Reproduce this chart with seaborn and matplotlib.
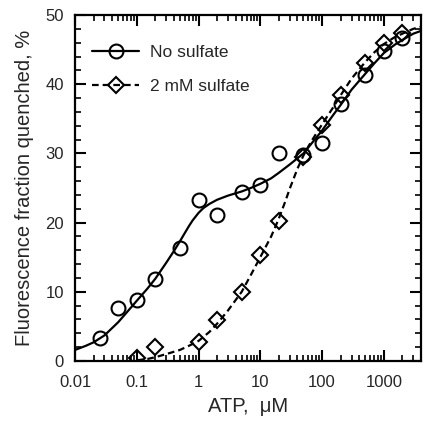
import numpy as np
import pandas as pd
import seaborn as sns
import matplotlib.pyplot as plt
from matplotlib.lines import Line2D
from matplotlib.ticker import MultipleLocator, LogLocator, FixedLocator, NullFormatter

# measured points, no sulfate (circles)
atp_nosulf = [0.025, 0.05, 0.1, 0.2, 0.5, 1, 2, 5, 10, 20, 50, 100, 200, 500, 1000, 2000]
q_nosulf = [3.3, 7.7, 8.8, 11.8, 16.3, 23.2, 21.1, 24.4, 25.4, 30.0, 29.8, 31.5, 37.2, 41.4, 44.8, 46.7]

# measured points, 2 mM sulfate (diamonds)
atp_sulf = [0.1, 0.2, 1, 2, 5, 10, 20, 50, 100, 200, 500, 1000, 2000]
q_sulf = [0.5, 2.0, 2.7, 5.9, 10.0, 15.3, 20.2, 29.5, 34.1, 38.4, 43.0, 46.0, 47.4]

# fitted curves
fit_x_nosulf = [0.01, 0.015, 0.02, 0.03, 0.05, 0.07, 0.1, 0.15, 0.2, 0.3, 0.4, 0.5, 0.6, 0.7, 0.8,
                1, 1.2, 1.5, 2, 3, 5, 7, 10, 15, 20, 30, 50, 70, 100, 150, 200, 300, 500, 700,
                1000, 1500, 2000, 3000, 4000]
fit_y_nosulf = [1.6, 2.2, 2.7, 3.7, 5.6, 7.1, 8.7, 10.5, 11.9, 14.2, 15.9, 17.3, 18.5, 19.5, 20.3,
                21.4, 22.1, 22.7, 23.3, 23.9, 24.5, 25.0, 25.6, 26.4, 27.2, 28.4, 30.0, 31.6, 33.3, 35.5,
                37.0, 39.2, 41.5, 43.0, 44.5, 45.7, 46.4, 47.3, 47.7]

fit_x_sulf = [0.1, 0.15, 0.2, 0.3, 0.5, 0.7, 1, 1.5, 2, 3, 5, 7, 10, 15, 20, 25, 30, 40, 50, 60, 70,
              100, 150, 200, 300, 500, 700, 1000, 1500, 2000, 3000, 4000]
fit_y_sulf = [0.1, 0.3, 0.55, 1.0, 1.6, 2.2, 2.9, 4.2, 5.4, 7.3, 10.0, 12.4, 15.0, 18.0, 20.6, 22.9,
              24.9, 27.8, 29.7, 31.0, 32.0, 34.2, 36.6, 38.4, 40.8, 43.2, 44.6, 45.8, 46.8, 47.3, 48.0, 48.3]

sns.set_style("ticks")
plt.rcParams["font.family"] = ["Liberation Sans", "DejaVu Sans"]

fig = plt.figure(figsize=(4.23, 4.26), dpi=100)
ax = fig.add_axes([75 / 423, 65 / 426, 346 / 423, 346 / 426])

dash = [3, 1.8]
fit1 = pd.DataFrame({"x": fit_x_nosulf, "y": fit_y_nosulf})
fit2 = pd.DataFrame({"x": fit_x_sulf, "y": fit_y_sulf})
sns.lineplot(data=fit1, x="x", y="y", ax=ax, color="black", lw=1.6)
sns.lineplot(data=fit2, x="x", y="y", ax=ax, color="black", lw=1.6)
ax.lines[-1].set_dashes(dash)

ax.plot(atp_nosulf, q_nosulf, ls="none", marker="o", ms=10, mfc="none", mec="black", mew=1.5)
ax.plot(atp_sulf, q_sulf, ls="none", marker="D", ms=8.5, mfc="none", mec="black", mew=1.5)

ax.set_xscale("log")
ax.set_xlim(0.01, 4000)
ax.set_ylim(0, 50)
ax.xaxis.set_major_locator(FixedLocator([0.01, 0.1, 1, 10, 100, 1000]))
ax.xaxis.set_minor_locator(LogLocator(base=10, subs=np.arange(2, 10), numticks=20))
ax.xaxis.set_minor_formatter(NullFormatter())
ax.set_xticklabels(["0.01", "0.1", "1", "10", "100", "1000"])
ax.yaxis.set_major_locator(MultipleLocator(10))
ax.yaxis.set_minor_locator(MultipleLocator(2))

ax.tick_params(which="both", direction="in", top=True, right=True, color="black", width=1.5)
ax.tick_params(which="major", length=8, labelsize=12)
ax.tick_params(axis="x", which="major", pad=10)
ax.tick_params(axis="y", which="major", pad=8)
ax.tick_params(which="minor", length=4.5, width=1.2)
for s in ax.spines.values():
    s.set_linewidth(1.6)
    s.set_color("black")

ax.set_xlabel("ATP,  \u03bcM", fontsize=14.5, labelpad=5)
ax.set_ylabel("Fluorescence fraction quenched, %", fontsize=14.5, labelpad=8)

handles = [
    Line2D([], [], color="black", lw=1.6, marker="o", ms=10, mfc="none", mec="black", mew=1.5),
    Line2D([], [], color="black", lw=1.6, dashes=dash, marker="D", ms=8.5, mfc="none", mec="black", mew=1.5),
]
ax.legend(handles, ["No sulfate", "2 mM sulfate"], loc="upper left", bbox_to_anchor=(0.005, 0.96),
          frameon=False, fontsize=12.5, handlelength=2.7, handletextpad=0.6, labelspacing=1.1)

fig.savefig("out.png", dpi=100)
